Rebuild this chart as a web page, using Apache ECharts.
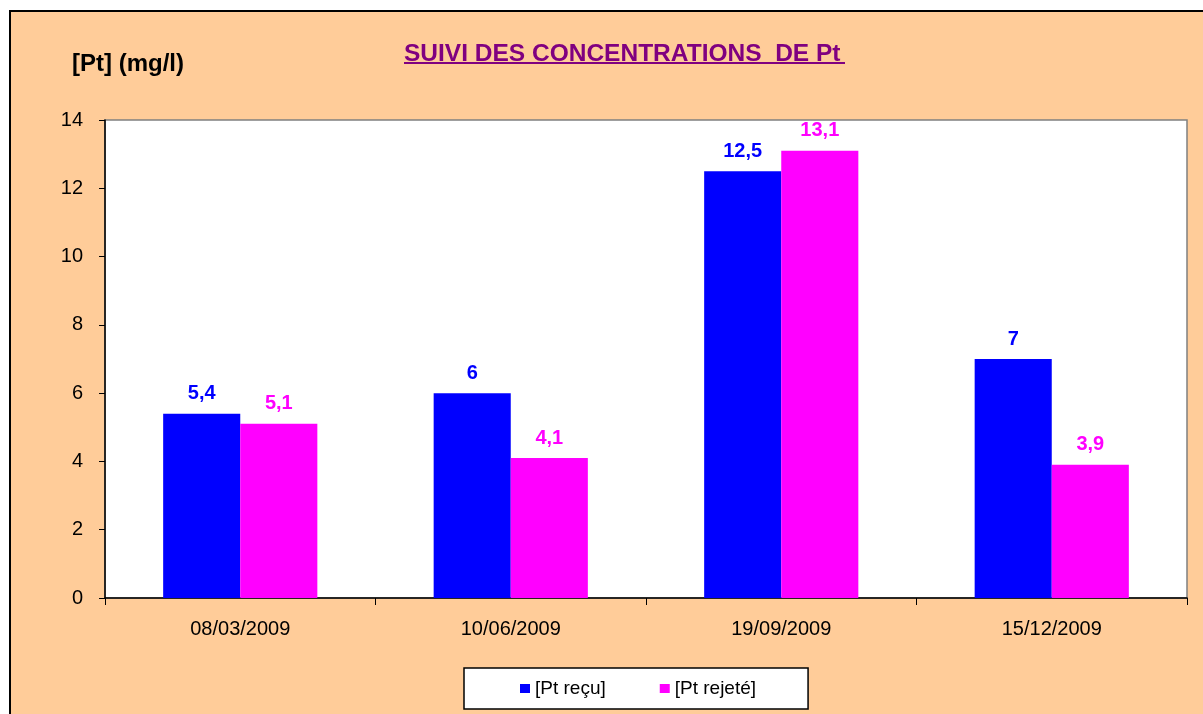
<!DOCTYPE html>
<html><head><meta charset="utf-8">
<script src="https://cdn.jsdelivr.net/npm/echarts@6/dist/echarts.min.js"></script>
<style>html,body{margin:0;padding:0;background:#fff}#c{width:1203px;height:714px}</style>
</head><body><div id="c"></div>
<script>
const categories = ['08/03/2009', '10/06/2009', '19/09/2009', '15/12/2009'];
const seriesNames = ['[Pt reçu]', '[Pt rejeté]'];
const recu = [5.4, 6, 12.5, 7];
const rejete = [5.1, 4.1, 13.1, 3.9];
const yTicks = [0, 2, 4, 6, 8, 10, 12, 14];

const FONT = 'Arial, "Liberation Sans", sans-serif';
const fmt = v => String(v).replace('.', ',');
const chart = echarts.init(document.getElementById('c'));
chart.setOption({
  backgroundColor: '#ffffff',
  animation: false,
  textStyle: { fontFamily: FONT },
  title: [
    { text: 'SUIVI DES CONCENTRATIONS  DE Pt', left: 399, top: 37, padding: 5,
      textStyle: { color: '#800080', fontSize: 24.5, fontWeight: 'bold', fontFamily: FONT } },
    { text: '[Pt] (mg/l)', left: 67, top: 47, padding: 5,
      textStyle: { color: '#000', fontSize: 24, fontWeight: 'bold', fontFamily: FONT } }
  ],
  graphic: [
    { type: 'rect', z: -10, silent: true, shape: { x: 10, y: 11, width: 1300, height: 800 },
      style: { fill: '#FFCC99', stroke: '#000', lineWidth: 2 } },
    { type: 'rect', z: 10, silent: true, shape: { x: 404, y: 62, width: 441, height: 2 },
      style: { fill: '#800080' } }
  ],
  legend: {
    data: seriesNames, left: 464, top: 668, orient: 'horizontal',
    icon: 'rect', itemWidth: 10, itemHeight: 9, itemGap: 54,
    padding: [11, 52, 11, 56],
    backgroundColor: '#fff', borderColor: '#000', borderWidth: 1.5,
    textStyle: { color: '#000', fontSize: 19, fontFamily: FONT }
  },
  grid: { left: 105, top: 120, right: 16, bottom: 116, show: true,
    backgroundColor: '#fff', borderColor: '#808080', borderWidth: 1.5 },
  xAxis: {
    type: 'category', data: categories,
    axisLine: { lineStyle: { color: '#000', width: 1.5 } },
    axisTick: { show: true, length: 7, lineStyle: { color: '#000' } },
    axisLabel: { color: '#000', fontSize: 20, margin: 21, fontFamily: FONT }
  },
  yAxis: {
    type: 'value', min: 0, max: 14, interval: 2,
    axisLine: { show: true, lineStyle: { color: '#000', width: 1.5 } },
    axisTick: { show: true, length: 6, lineStyle: { color: '#000' } },
    splitLine: { show: false },
    axisLabel: { color: '#000', fontSize: 20, margin: 22, fontFamily: FONT,
      formatter: v => yTicks.includes(v) ? String(v) : '' }
  },
  series: [
    { name: seriesNames[0], type: 'bar', data: recu, barGap: '0%', barCategoryGap: '43%',
      itemStyle: { color: '#0000FF' },
      label: { show: true, position: 'top', distance: 10, color: '#0000FF', fontSize: 20,
        fontWeight: 'bold', fontFamily: FONT, formatter: p => fmt(p.value) } },
    { name: seriesNames[1], type: 'bar', data: rejete, barGap: '0%', barCategoryGap: '43%',
      itemStyle: { color: '#FF00FF' },
      label: { show: true, position: 'top', distance: 10, color: '#FF00FF', fontSize: 20,
        fontWeight: 'bold', fontFamily: FONT, formatter: p => fmt(p.value) } }
  ]
});
</script></body></html>
